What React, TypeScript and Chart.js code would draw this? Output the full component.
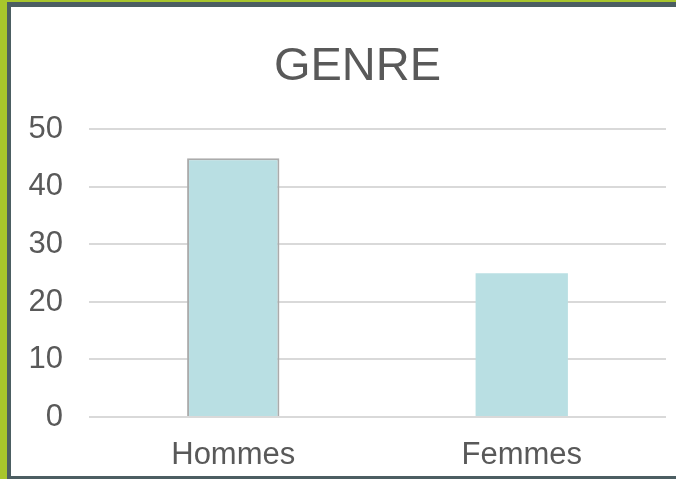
import React, { useEffect, useRef } from "react";
import { Chart, registerables } from "chart.js";

Chart.register(...registerables);

const title = "GENRE";
const categories = ["Hommes", "Femmes"];
const values = [45, 25];
const yMin = 0;
const yMax = 50;
const yStep = 10;

const TEXT = "#595959";
const FONT = "'Liberation Sans', Arial, sans-serif";

export default function App() {
  const ref = useRef<HTMLCanvasElement | null>(null);

  useEffect(() => {
    document.body.style.margin = "0";
    const canvas = ref.current;
    if (!canvas) return;
    const chart = new Chart(canvas, {
      type: "bar",
      data: {
        labels: categories,
        datasets: [
          {
            data: values,
            backgroundColor: "#b9dfe3",
            borderColor: ["#ababab", "rgba(0,0,0,0)"],
            borderWidth: [2, 0] as any,
            categoryPercentage: 1,
            barPercentage: 0.32,
          },
        ],
      },
      options: {
        animation: false,
        responsive: false,
        maintainAspectRatio: false,
        layout: { padding: 0 },
        plugins: {
          legend: { display: false },
          tooltip: { enabled: false },
          title: {
            display: true,
            text: title,
            color: TEXT,
            font: { family: FONT, size: 47, weight: "normal" },
            padding: { top: 32, bottom: 34 },
          },
        },
        scales: {
          x: {
            afterFit: (scale: any) => {
              scale.height = 59;
            },
            grid: { display: false, drawTicks: false },
            border: { display: false },
            ticks: {
              color: TEXT,
              font: { family: FONT, size: 31 },
              padding: 20,
              maxRotation: 0,
            },
          },
          y: {
            min: yMin,
            max: yMax,
            afterFit: (scale: any) => {
              scale.width = 78;
            },
            grid: { color: "#d9d9d9", lineWidth: 2, drawTicks: false },
            border: { display: false },
            ticks: {
              stepSize: yStep,
              color: TEXT,
              font: { family: FONT, size: 31 },
              padding: 26,
            },
          },
          yRight: {
            position: "right",
            min: yMin,
            max: yMax,
            afterFit: (scale: any) => {
              scale.width = 38;
            },
            grid: { display: false, drawTicks: false },
            border: { display: false },
            ticks: { display: false },
          },
        },
      },
    });
    return () => chart.destroy();
  }, []);

  return (
    <div
      style={{
        position: "absolute",
        left: 0,
        top: 0,
        width: 676,
        height: 479,
        overflow: "hidden",
        background: "#a8c62c",
      }}
    >
      <div
        style={{
          position: "absolute",
          left: 7,
          top: 2,
          width: 720,
          height: 477,
          background: "#4c5e62",
        }}
      />
      <canvas
        ref={ref}
        width={693}
        height={469}
        style={{
          position: "absolute",
          left: 11,
          top: 7,
          width: 693,
          height: 469,
          background: "#ffffff",
        }}
      />
    </div>
  );
}
